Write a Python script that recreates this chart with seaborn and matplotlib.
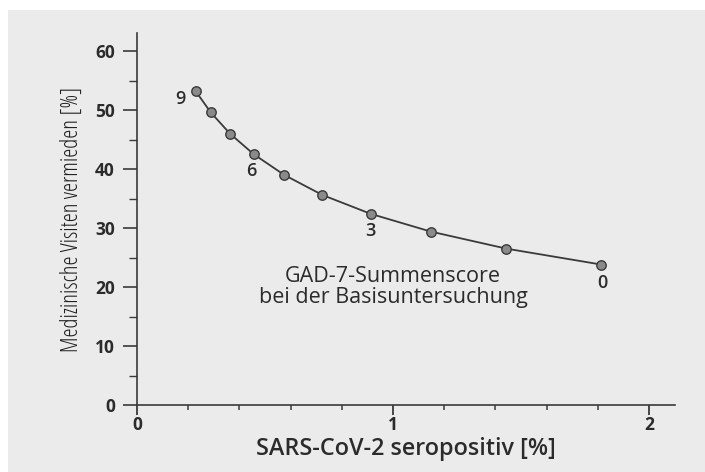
import matplotlib
matplotlib.use("Agg")
import matplotlib.pyplot as plt
import seaborn as sns
import pandas as pd
from matplotlib.patches import Rectangle
from matplotlib.ticker import MultipleLocator

# Data (GAD-7 sum score 9 .. 0)
gad_scores = [9, 8, 7, 6, 5, 4, 3, 2, 1, 0]
seropositive = [0.229, 0.288, 0.363, 0.456, 0.575, 0.724, 0.913, 1.147, 1.443, 1.814]
visits_avoided = [53.2, 49.6, 46.0, 42.5, 39.0, 35.6, 32.4, 29.4, 26.5, 23.8]
labelled_scores = [9, 6, 3, 0]

x_ticks = [0, 1, 2]
y_ticks = [0, 10, 20, 30, 40, 50, 60]

df = pd.DataFrame({"score": gad_scores, "x": seropositive, "y": visits_avoided})

sns.set_style("white")
plt.rcParams["font.family"] = ["Open Sans", "DejaVu Sans"]

txt = "#2b2b2b"
bg = "#ebebeb"
fig = plt.figure(figsize=(7.05, 4.72), dpi=100)
fig.patch.set_facecolor("white")
rect = Rectangle((8 / 705, 0), 697 / 705, 462 / 472, transform=fig.transFigure,
                 facecolor=bg, edgecolor="none", zorder=-10)
fig.add_artist(rect)
ax = fig.add_axes([137 / 705, 67 / 472, 537.6 / 705, 371.7 / 472])
ax.set_zorder(5)
ax.patch.set_alpha(0)

sns.lineplot(data=df, x="x", y="y", ax=ax, color="#3a3a3a", linewidth=1.3,
             marker="o", markersize=6.8, markerfacecolor="#8a8a8a",
             markeredgecolor="#3a3a3a", markeredgewidth=1.0, sort=False)

offsets = {9: (-11, -6), 6: (-2, -12), 3: (0, -12), 0: (1, -13)}
for s, xv, yv in zip(gad_scores, seropositive, visits_avoided):
    if s in labelled_scores:
        dx, dy = offsets[s]
        ax.annotate(str(s), (xv, yv), xytext=(dx, dy), textcoords="offset points",
                    ha="center", va="center", fontsize=13, fontweight="semibold", color=txt)

ax.text(1.0, 20.0, "GAD-7-Summenscore\nbei der Basisuntersuchung", ha="center", va="center",
        fontsize=15.5, color=txt, linespacing=1.05)

ax.set_xlim(0, 2.1)
ax.set_ylim(0, 63)
ax.set_xticks(x_ticks)
ax.set_yticks(y_ticks)
ax.xaxis.set_minor_locator(MultipleLocator(0.2))
ax.yaxis.set_minor_locator(MultipleLocator(5))
ax.tick_params(axis="both", which="both", bottom=True, left=True, direction="out", color="#3a3a3a")
ax.tick_params(axis="x", which="major", length=7, width=1.3, labelsize=12.5, labelcolor=txt, pad=1)
ax.tick_params(axis="x", which="minor", length=3.5, width=1.1)
ax.tick_params(axis="y", which="major", length=10, width=1.2, labelsize=12.5, labelcolor=txt, pad=6)
ax.tick_params(axis="y", which="minor", length=6, width=1.0)
for lab in ax.get_xticklabels() + ax.get_yticklabels():
    lab.set_fontweight("bold")

for side in ["top", "right"]:
    ax.spines[side].set_visible(False)
for side in ["left", "bottom"]:
    ax.spines[side].set_color("#3a3a3a")
    ax.spines[side].set_linewidth(1.2)

ax.set_xlabel("SARS-CoV-2 seropositiv [%]", fontsize=16.8, fontweight="semibold", color=txt, labelpad=2)
ax.set_ylabel("Medizinische Visiten vermieden [%]", color="#1e1e1e", labelpad=8,
              family=["Open Sans"], fontstretch="condensed", fontsize=16.5)

fig.savefig("out.png", dpi=100, facecolor="white")
